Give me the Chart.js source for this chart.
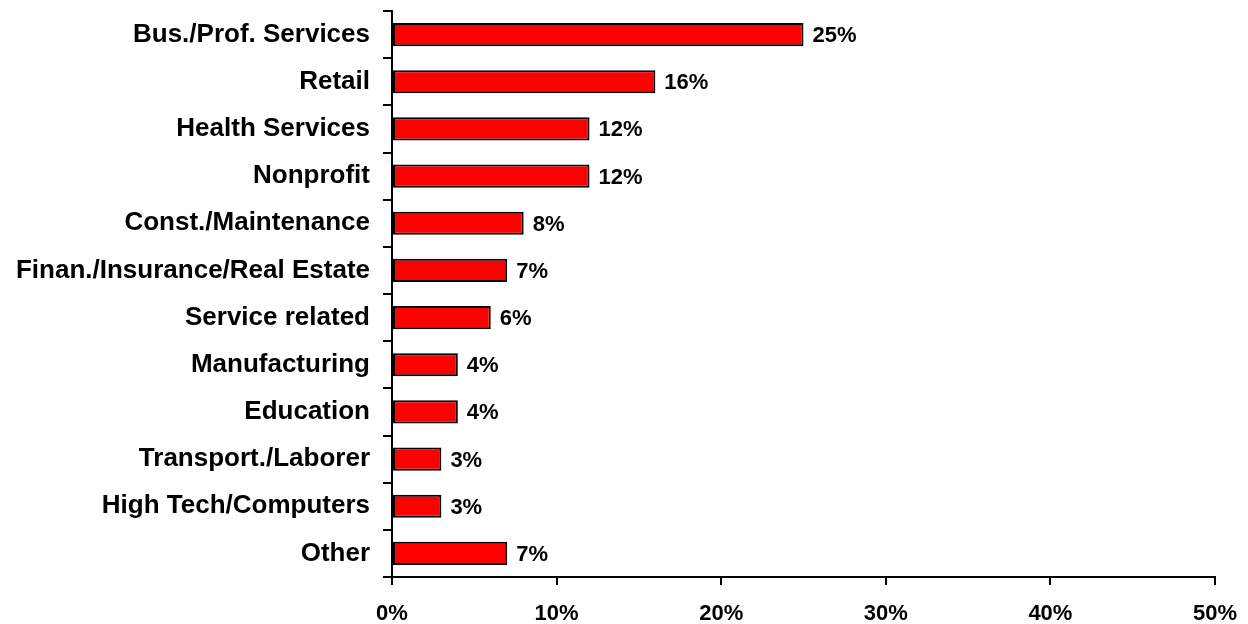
<!DOCTYPE html>
<html>
<head>
<meta charset="utf-8">
<script src="https://cdn.jsdelivr.net/npm/chart.js@4"></script>
<style>
  html, body { margin: 0; padding: 0; background: #fff; }
  #wrap { width: 1248px; height: 624px; }
</style>
</head>
<body>
<div id="wrap"><canvas id="industry"></canvas></div>
<script>
// share of clients by industry, in percent
var industries = ["Bus./Prof. Services", "Retail", "Health Services", "Nonprofit",
    "Const./Maintenance", "Finan./Insurance/Real Estate", "Service related",
    "Manufacturing", "Education", "Transport./Laborer", "High Tech/Computers", "Other"];
var shares = [25, 16, 12, 12, 8, 7, 6, 4, 4, 3, 3, 7];
var xTicks = [0, 10, 20, 30, 40, 50];

var FONT = "'Liberation Sans', Arial, sans-serif";

// writes the value next to the end of each bar
var barLabels = {
    id: "barLabels",
    afterDatasetsDraw: function (chart) {
        var ctx = chart.ctx;
        var meta = chart.getDatasetMeta(0);
        ctx.save();
        ctx.font = "bold 22px " + FONT;
        ctx.fillStyle = "#000";
        ctx.textAlign = "left";
        ctx.textBaseline = "middle";
        meta.data.forEach(function (bar, i) {
            ctx.fillText(shares[i] + "%", bar.x + 9, bar.y + 1.5);
        });
        ctx.restore();
    }
};

new Chart(document.getElementById("industry"), {
    type: "bar",
    data: {
        labels: industries,
        datasets: [{
            data: shares,
            backgroundColor: "#ff0000",
            borderColor: "#000000",
            borderWidth: 2,
            borderSkipped: false,
            barPercentage: 0.49,
            categoryPercentage: 1
        }]
    },
    options: {
        indexAxis: "y",
        responsive: true,
        maintainAspectRatio: false,
        animation: false,
        layout: { padding: { top: 11, right: 33, left: 0, bottom: 0 } },
        plugins: {
            legend: { display: false },
            tooltip: { enabled: false }
        },
        scales: {
            x: {
                min: 0,
                max: 50,
                afterBuildTicks: function (axis) {
                    axis.ticks = xTicks.map(function (v) { return { value: v }; });
                },
                afterFit: function (axis) {
                    axis.height = 47;
                    axis.paddingLeft = 0;
                    axis.paddingRight = 0;
                },
                grid: { drawOnChartArea: false, drawTicks: true, tickLength: 8, color: "#000", lineWidth: 2 },
                border: { display: true, color: "#000", width: 2 },
                ticks: {
                    color: "#000",
                    padding: 18,
                    font: { family: FONT, size: 22, weight: "bold", lineHeight: 1 },
                    callback: function (v) { return v + "%"; }
                }
            },
            y: {
                afterFit: function (axis) {
                    axis.width = 392;
                    axis.paddingTop = 0;
                    axis.paddingBottom = 0;
                },
                grid: { offset: true, drawOnChartArea: false, drawTicks: true, tickLength: 9, color: "#000", lineWidth: 2 },
                border: { display: true, color: "#000", width: 2 },
                ticks: {
                    color: "#000",
                    padding: 13,
                    font: { family: FONT, size: 26, weight: "bold" }
                }
            }
        }
    },
    plugins: [barLabels]
});
</script>
</body>
</html>
